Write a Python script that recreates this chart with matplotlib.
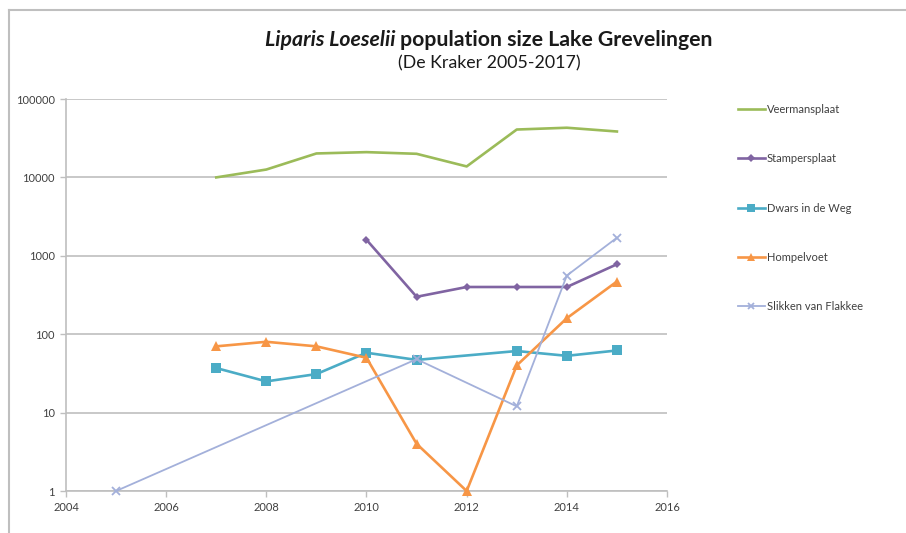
import numpy as np
import matplotlib
matplotlib.use("Agg")
import matplotlib.pyplot as plt
from matplotlib.lines import Line2D

plt.rcParams['font.family'] = ['Lato', 'DejaVu Sans']

years = [2005, 2006, 2007, 2008, 2009, 2010, 2011, 2012, 2013, 2014, 2015]
nan = np.nan

veermansplaat = [nan, nan, 10000, 12600, 20200, 21000, 20000, 13800, 40800, 43000, 38500]
stampersplaat = [nan, nan, nan, nan, nan, 1600, 300, 400, 400, 400, 780]
dwars_in_de_weg = [nan, nan, 37, 25, 31, 58, 47, nan, 61, 53, 62]
hompelvoet = [nan, nan, 70, 80, 70, 50, 4, 1, 40, 160, 470]
slikken_van_flakkee = [1, nan, nan, nan, nan, nan, 48, nan, 12, 560, 1700]

series_names = ["Veermansplaat", "Stampersplaat", "Dwars in de Weg",
                "Hompelvoet", "Slikken van Flakkee"]
series_values = [veermansplaat, stampersplaat, dwars_in_de_weg,
                 hompelvoet, slikken_van_flakkee]
colors = ["#9BBB59", "#8064A2", "#4BACC6", "#F79646", "#A3B0DA"]
markers = [None, "D", "s", "^", "x"]
marker_sizes = [0, 4.5, 7, 6.5, 6]
line_widths = [1.9, 1.9, 1.9, 1.9, 1.3]

x_ticks = [2004, 2006, 2008, 2010, 2012, 2014, 2016]
y_ticks = [1, 10, 100, 1000, 10000, 100000]
y_tick_labels = ["1", "10", "100", "1000", "10000", "100000"]

W, H = 906, 533
fig = plt.figure(figsize=(W / 100, H / 100), dpi=100)
ax = fig.add_axes([66 / W, 1 - 491 / H, (667 - 66) / W, (491 - 99) / H])

ax.set_yscale("log")
ax.set_xlim(2004, 2016)
ax.set_ylim(1, 100000)

handles = []
for name, vals, c, m, ms, lw in zip(series_names, series_values, colors,
                                    markers, marker_sizes, line_widths):
    arr = np.array(vals, dtype=float)
    yr = np.array(years, dtype=float)
    ok = ~np.isnan(arr)
    ln, = ax.plot(yr[ok], arr[ok], color=c, lw=lw, marker=m, ms=ms,
                  mew=1.3 if m == "x" else 0, mec=c, mfc=c,
                  label=name, zorder=3, clip_on=False)
    handles.append(ln)

ax.set_xticks(x_ticks)
ax.set_xticklabels([str(t) for t in x_ticks])
ax.set_yticks(y_ticks)
ax.set_yticklabels(y_tick_labels)
ax.yaxis.set_minor_locator(matplotlib.ticker.NullLocator())
ax.tick_params(axis="both", labelsize=8, colors="#404040", length=4,
               width=1, direction="out", pad=4)
ax.tick_params(axis="both", color="#BFBFBF")
ax.grid(axis="y", color="#BFBFBF", lw=1.2)
ax.set_axisbelow(True)
for s in ("top", "right"):
    ax.spines[s].set_visible(False)
for s in ("left", "bottom"):
    ax.spines[s].set_color("#BFBFBF")
    ax.spines[s].set_linewidth(1.2)

# legend, one entry per row with wide spacing
leg = fig.legend(handles=handles, loc="upper left",
                 bbox_to_anchor=(728 / W, 1 - 94 / H), frameon=False,
                 fontsize=8, handlelength=2.4, handletextpad=0.2,
                 labelspacing=3.45, markerscale=0.8, labelcolor="#404040")

# title: italic species name followed by bold remainder
renderer = fig.canvas.get_renderer()
cx, ty = 489 / W, 1 - 40 / H
t1 = fig.text(0, ty, "Liparis Loeselii", fontsize=15.3, fontweight="bold",
              fontstyle="italic", va="center", ha="left", color="#1a1a1a")
t2 = fig.text(0, ty, " population size Lake Grevelingen", fontsize=15.3,
              fontweight="bold", va="center", ha="left", color="#1a1a1a")
w1 = t1.get_window_extent(renderer).width / W
w2 = t2.get_window_extent(renderer).width / W
x0 = cx - (w1 + w2) / 2
t1.set_x(x0)
t2.set_x(x0 + w1)
fig.text(cx, 1 - 63 / H, "(De Kraker 2005-2017)", fontsize=12.8,
         ha="center", va="center", color="#1a1a1a")

# chart frame lines
fig.add_artist(Line2D([9 / W, 9 / W], [0, 1 - 10 / H], color="#BFBFBF",
                      lw=1.5, transform=fig.transFigure))
fig.add_artist(Line2D([9 / W, 1], [1 - 10 / H, 1 - 10 / H], color="#BFBFBF",
                      lw=1.5, transform=fig.transFigure))

fig.savefig("out.png", dpi=100)
